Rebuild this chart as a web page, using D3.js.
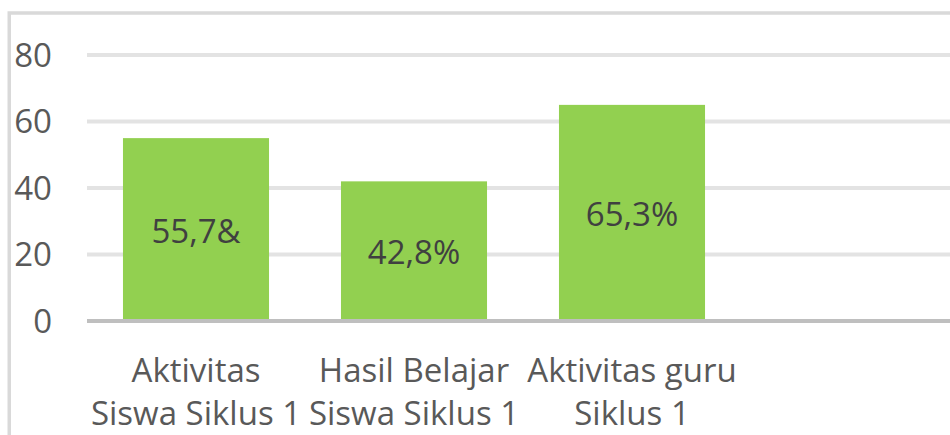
<!DOCTYPE html>
<html>
<head>
<meta charset="utf-8">
<script src="https://cdn.jsdelivr.net/npm/d3@7"></script>
<style>
  html, body { margin: 0; padding: 0; background: #ffffff; }
  svg { display: block; }
</style>
</head>
<body>
<svg id="chart" width="950" height="435"></svg>
<script>
// ---- data ----
const categories = ["Aktivitas Siswa Siklus 1", "Hasil Belajar Siswa Siklus 1", "Aktivitas guru Siklus 1"];
const categoryLines = [["Aktivitas", "Siswa Siklus 1"], ["Hasil Belajar", "Siswa Siklus 1"], ["Aktivitas guru", "Siklus 1"]];
const values = [55, 42, 65];
const dataLabels = ["55,7&", "42,8%", "65,3%"];
const yTicks = [0, 20, 40, 60, 80];

// ---- layout ----
const W = 950, H = 435;
const plotLeft = 87, plotRight = 959, plotTop = 55, plotBottom = 321;
const font = "'Open Sans', 'Noto Sans', sans-serif";
const fontSize = 33;

const svg = d3.select("#chart");
svg.append("rect").attr("width", W).attr("height", H).attr("fill", "#ffffff");

// chart border (extends past right and bottom edges)
svg.append("rect")
  .attr("x", 9.25).attr("y", 13)
  .attr("width", 1100).attr("height", 600)
  .attr("fill", "none").attr("stroke", "#d9d9d9").attr("stroke-width", 3.5);

const x = d3.scaleBand()
  .domain([...categories, "__empty__"])
  .range([plotLeft, plotRight])
  .paddingInner(0.33)
  .paddingOuter(0.165);

const y = d3.scaleLinear().domain([0, 80]).range([plotBottom, plotTop]);

// gridlines
svg.append("g").selectAll("line")
  .data(yTicks.filter(t => t !== 0))
  .join("line")
  .attr("x1", plotLeft).attr("x2", plotRight)
  .attr("y1", d => y(d)).attr("y2", d => y(d))
  .attr("stroke", "#e3e3e3").attr("stroke-width", 4);

// y tick labels
svg.append("g").selectAll("text")
  .data(yTicks)
  .join("text")
  .attr("x", 52)
  .attr("y", d => y(d))
  .attr("dy", "0.35em")
  .attr("text-anchor", "end")
  .attr("font-family", font)
  .attr("font-size", fontSize)
  .attr("fill", "#595959")
  .text(d => d);

// bars
svg.append("g").selectAll("rect")
  .data(values)
  .join("rect")
  .attr("x", (d, i) => x(categories[i]))
  .attr("width", x.bandwidth())
  .attr("y", d => y(d))
  .attr("height", d => y(0) - y(d))
  .attr("fill", "#92d050");

// baseline axis
svg.append("line")
  .attr("x1", plotLeft).attr("x2", plotRight)
  .attr("y1", y(0)).attr("y2", y(0))
  .attr("stroke", "#bfbfbf").attr("stroke-width", 4);

// data labels (centered in bars)
svg.append("g").selectAll("text")
  .data(values)
  .join("text")
  .attr("x", (d, i) => x(categories[i]) + x.bandwidth() / 2)
  .attr("y", d => (y(d) + y(0)) / 2 + 1.5)
  .attr("dy", "0.35em")
  .attr("text-anchor", "middle")
  .attr("font-family", font)
  .attr("font-size", fontSize)
  .attr("fill", "#404040")
  .text((d, i) => dataLabels[i]);

// category labels
const catG = svg.append("g");
categories.forEach((c, i) => {
  const t = catG.append("text")
    .attr("text-anchor", "middle")
    .attr("font-family", font)
    .attr("font-size", fontSize)
    .attr("fill", "#595959");
  categoryLines[i].forEach((line, j) => {
    t.append("tspan")
      .attr("x", x(c) + x.bandwidth() / 2)
      .attr("y", y(0) + 61 + j * 42.5)
      .text(line);
  });
});
</script>
</body>
</html>
